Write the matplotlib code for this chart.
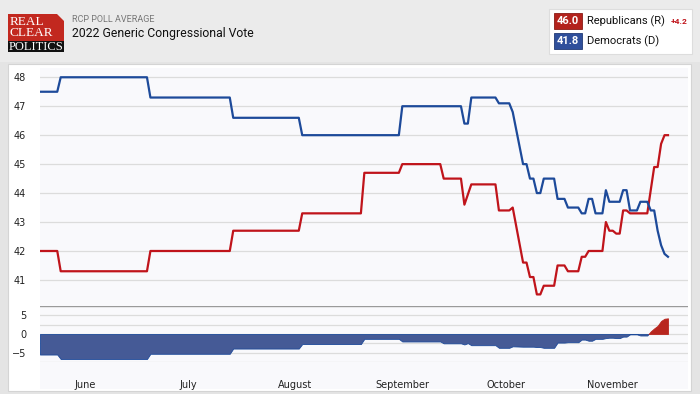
import matplotlib.pyplot as plt
import matplotlib.dates as mdates
from matplotlib.patches import Rectangle, Polygon
import numpy as np
import pandas as pd

# poll average, stored as (day offset from start, value) break points
start = pd.Timestamp("2021-05-19")

dem_days = [0, 5, 6, 31, 32, 55, 56, 75, 76, 104, 105, 122, 123, 124, 125, 132, 133, 136, 137,
            140, 141, 142, 143, 144, 145, 146, 149, 150, 152, 153, 156, 157, 158, 159, 160, 161,
            163, 164, 165, 168, 169, 170, 171, 173, 174, 176, 177, 178, 179, 180, 181, 182]
dem_vals = [47.5, 47.5, 48.0, 48.0, 47.3, 47.3, 46.6, 46.6, 46.0, 46.0, 47.0, 47.0, 46.4, 46.4, 47.3,
            47.3, 47.1, 47.1, 46.8, 45.0, 45.0, 44.5, 44.5, 44.0, 44.0, 44.5, 44.5, 43.8, 43.8, 43.5,
            43.5, 43.3, 43.3, 43.8, 43.8, 43.3, 43.3, 44.1, 43.7, 43.7, 44.1, 44.1, 43.4, 43.4, 43.7,
            43.7, 43.4, 43.4, 42.7, 42.2, 41.9, 41.8]

rep_days = [0, 5, 6, 31, 32, 55, 56, 75, 76, 93, 94, 104, 105, 116, 117, 122, 123, 125, 132, 133,
            136, 137, 140, 141, 142, 143, 144, 145, 146, 149, 150, 152, 153, 156, 157, 158, 159,
            163, 164, 165, 166, 167, 168, 169, 170, 171, 176, 178, 179, 180, 181, 182]
rep_vals = [42.0, 42.0, 41.3, 41.3, 42.0, 42.0, 42.7, 42.7, 43.3, 43.3, 44.7, 44.7, 45.0, 45.0, 44.5,
            44.5, 43.6, 44.3, 44.3, 43.4, 43.4, 43.5, 41.6, 41.6, 41.1, 41.1, 40.5, 40.5, 40.8, 40.8,
            41.5, 41.5, 41.3, 41.3, 41.8, 41.8, 42.0, 42.0, 43.0, 42.7, 42.7, 42.6, 42.6, 43.4, 43.4,
            43.3, 43.3, 44.9, 44.9, 45.7, 46.0, 46.0]

y_ticks = [41, 42, 43, 44, 45, 46, 47, 48]
spread_ticks = [-5, 0, 5]

title_small = "RCP POLL AVERAGE"
title = "2022 Generic Congressional Vote"
rep_label = "Republicans (R)"
dem_label = "Democrats (D)"
rep_latest = "46.0"
dem_latest = "41.8"
lead = "+4.2"

RED = "#c0141b"
BLUE = "#1d4a9a"
FILL_BLUE = "#455a96"
FILL_RED = "#b8261f"

W, H = 700, 394


def fx(x):
    return x / W


def fy(y):
    return 1 - y / H


dem_x = start + pd.to_timedelta(dem_days, unit="D")
rep_x = start + pd.to_timedelta(rep_days, unit="D")

# spread R - D on the union of break points
all_days = np.union1d(dem_days, rep_days)
spread = np.interp(all_days, rep_days, rep_vals) - np.interp(all_days, dem_days, dem_vals)
spread_x = start + pd.to_timedelta(all_days, unit="D")

fig = plt.figure(figsize=(7, 3.94), dpi=100)
fig.patch.set_facecolor("#e4e4e4")

# header band and white panel
fig.add_artist(Rectangle((0, fy(62)), 1, 62 / H, transform=fig.transFigure,
                         facecolor="#ebebeb", edgecolor="none", zorder=0))
fig.add_artist(Rectangle((fx(8), fy(391)), fx(683), 327 / H, transform=fig.transFigure,
                         facecolor="white", edgecolor="#d4d4d4", lw=0.8, zorder=0))
fig.add_artist(Rectangle((fx(40), fy(389)), fx(648), 321 / H, transform=fig.transFigure,
                         facecolor="#f9f9fc", edgecolor="none", zorder=0))

# logo
fig.add_artist(Polygon([(fx(8), fy(14)), (fx(57), fy(14)), (fx(64), fy(21)), (fx(64), fy(41)),
                        (fx(8), fy(41))], closed=True, transform=fig.transFigure,
                       facecolor="#c2281f", edgecolor="none"))
fig.add_artist(Rectangle((fx(8), fy(52)), fx(56), 11 / H, transform=fig.transFigure,
                         facecolor="#111111", edgecolor="none"))
fig.text(fx(9.5), fy(22), "REAL", color="white", fontsize=9.5, family="Liberation Serif",
         va="center", ha="left")
fig.text(fx(9.5), fy(33.5), "CLEAR", color="white", fontsize=9.5, family="Liberation Serif",
         va="center", ha="left")
fig.text(fx(9), fy(46.5), "POLITICS", color="white", fontsize=9, family="Liberation Serif",
         va="center", ha="left")

fig.text(fx(72), fy(19), title_small, color="#777777", fontsize=6.5, family="Roboto",
         va="center", ha="left")
fig.text(fx(72), fy(34), title, color="#111111", fontsize=8.8, family="Roboto",
         va="center", ha="left")

# legend box
fig.add_artist(Rectangle((fx(549), fy(54)), fx(143), 45 / H, transform=fig.transFigure,
                         facecolor="white", edgecolor="#dddddd", lw=0.8))
fig.add_artist(Rectangle((fx(554), fy(29)), fx(28), 16 / H, transform=fig.transFigure,
                         facecolor="#b3221c", edgecolor="#8a1a15", lw=0.6))
fig.add_artist(Rectangle((fx(554), fy(49)), fx(28), 16 / H, transform=fig.transFigure,
                         facecolor="#2f4f9b", edgecolor="#223a75", lw=0.6))
fig.text(fx(568), fy(21.5), rep_latest, color="white", fontsize=8, fontweight="bold",
         family="Roboto", va="center", ha="center")
fig.text(fx(568), fy(41.5), dem_latest, color="white", fontsize=8, fontweight="bold",
         family="Roboto", va="center", ha="center")
fig.text(fx(587), fy(21), rep_label, color="#111111", fontsize=8, family="Roboto",
         va="center", ha="left")
fig.text(fx(587), fy(41.5), dem_label, color="#111111", fontsize=8, family="Roboto",
         va="center", ha="left")
fig.text(fx(671), fy(22), lead, color=RED, fontsize=6, fontweight="bold", family="Roboto",
         va="center", ha="left")

xmin = start
xmax = start + pd.Timedelta(days=187.8)

# main chart
ax = fig.add_axes([fx(40), fy(306), fx(648), 238 / H])
ax.set_facecolor("none")
ax.plot(rep_x, rep_vals, color=RED, lw=1.6, zorder=3)
ax.plot(dem_x, dem_vals, color=BLUE, lw=1.6, zorder=3)
ax.set_xlim(xmin, xmax)
ax.set_ylim(40.1, 48.32)
ax.set_yticks(y_ticks)
ax.grid(axis="y", color="#dcdcdc", lw=0.9)
ax.set_axisbelow(True)
ax.tick_params(axis="y", length=0, labelsize=7, labelcolor="#222222", pad=10)
ax.tick_params(axis="x", bottom=False, labelbottom=False)
for s in ax.spines.values():
    s.set_visible(False)

# spread chart
ax2 = fig.add_axes([fx(40), fy(362), fx(648), 56 / H])
ax2.set_facecolor("none")
ax2.fill_between(spread_x, 0, spread, where=spread <= 0, interpolate=True,
                 facecolor=FILL_BLUE, edgecolor=BLUE, lw=0.6, zorder=3)
ax2.fill_between(spread_x, 0, spread, where=spread >= 0, interpolate=True,
                 facecolor=FILL_RED, edgecolor=FILL_RED, lw=0.6, zorder=3)
ax2.set_xlim(xmin, xmax)
ax2.set_ylim(-7.5, 7.5)
ax2.set_yticks(spread_ticks)
for v in [-7.5, -5, -2.5, 0, 2.5, 5]:
    ax2.axhline(v, color="#dcdcdc", lw=0.9, zorder=1)
ax2.axhline(7.5, color="#9a9a9a", lw=1.0, zorder=1)
ax2.tick_params(axis="y", length=0, labelsize=7, labelcolor="#222222", pad=10)
ax2.xaxis.set_major_locator(mdates.MonthLocator())
ax2.xaxis.set_major_formatter(mdates.DateFormatter("%B"))
ax2.tick_params(axis="x", length=0, labelsize=7, labelcolor="#222222", pad=13)
for s in ax2.spines.values():
    s.set_visible(False)

fig.savefig("out.png", dpi=100, facecolor=fig.get_facecolor())
